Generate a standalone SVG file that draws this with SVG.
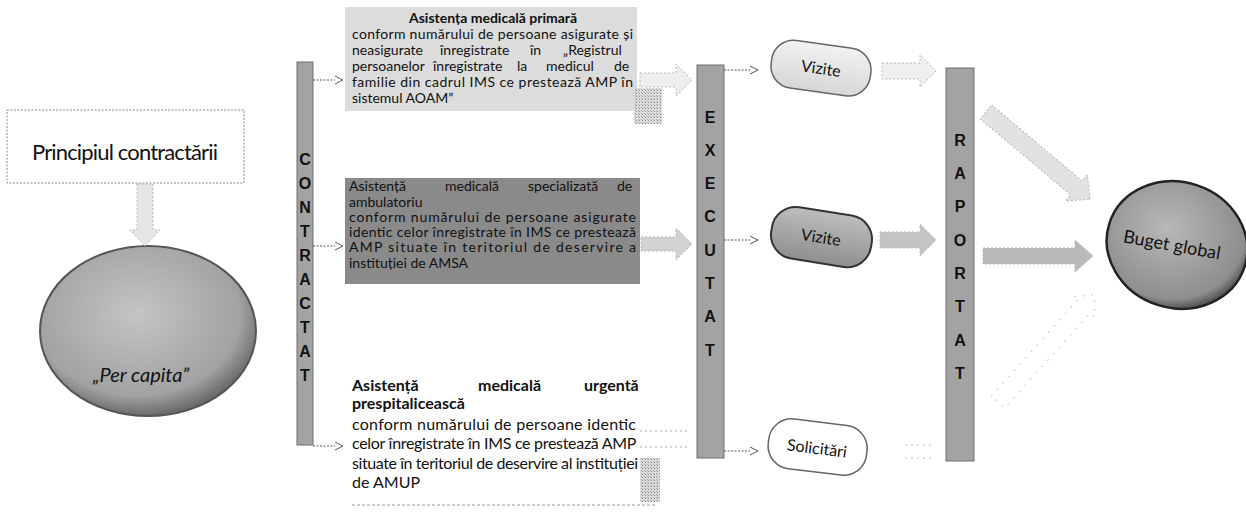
<svg xmlns="http://www.w3.org/2000/svg" width="1246" height="520" viewBox="0 0 1246 520">
<style>
.t{font-family:Lato,"Liberation Sans",sans-serif;fill:#111}
.b{font-weight:bold}
.bar{fill:#a3a3a3;stroke:#6e6e6e;stroke-width:1}
.barl{font-family:"Liberation Sans",sans-serif;font-weight:bold;font-size:16px;fill:#111;text-anchor:middle}
.con{fill:none;stroke:#555;stroke-width:1.2;stroke-dasharray:2 1.5}
.blk{stroke:#b5b5b5;stroke-width:1;stroke-dasharray:2 2}
</style>
<defs>
<marker id="ah" markerWidth="10" markerHeight="10" refX="8" refY="5" orient="auto" markerUnits="userSpaceOnUse">
<path d="M1,1 L9,5 L1,9" fill="#fff" stroke="#555" stroke-width="1"/>
</marker>
<pattern id="dots" width="3" height="3" patternUnits="userSpaceOnUse">
<rect width="3" height="3" fill="#d8d8d8"/><rect width="1" height="1" fill="#777"/><rect x="2" y="2" width="1" height="1" fill="#999"/>
</pattern>
<radialGradient id="gEll" cx="45%" cy="40%" r="60%">
<stop offset="0" stop-color="#c4c4c4"/><stop offset="0.8" stop-color="#a2a2a2"/><stop offset="1" stop-color="#6a6a6a"/>
</radialGradient>
<radialGradient id="gBug" cx="40%" cy="40%" r="65%">
<stop offset="0" stop-color="#b8b8b8"/><stop offset="0.85" stop-color="#8e8e8e"/><stop offset="1" stop-color="#444"/>
</radialGradient>
<linearGradient id="gPill1" x1="0" y1="0" x2="0" y2="1">
<stop offset="0" stop-color="#f2f2f2"/><stop offset="1" stop-color="#d6d6d6"/>
</linearGradient>
<linearGradient id="gPill2" x1="0" y1="0" x2="0" y2="1">
<stop offset="0" stop-color="#bdbdbd"/><stop offset="1" stop-color="#8f8f8f"/>
</linearGradient>
</defs>

<g id="principiul">
<rect x="7" y="110" width="237" height="73" fill="#fff" stroke="#888" stroke-width="1" stroke-dasharray="2 1.5"/>
<text class="t" x="125" y="160" font-size="22" text-anchor="middle" textLength="186">Principiul contractării</text>
</g>

<g id="percapita">
<ellipse cx="148" cy="331" rx="108" ry="85" fill="url(#gEll)" stroke="#555" stroke-width="2"/>
<text class="t" x="141" y="382" font-size="20" font-style="italic" text-anchor="middle">„Per capita”</text>
</g>

<g id="contractat">
<rect class="bar" x="297" y="62" width="16" height="383"/>
<text class="barl"><tspan x="305" y="165">C</tspan><tspan x="305" y="189">O</tspan><tspan x="305" y="213">N</tspan><tspan x="305" y="237">T</tspan><tspan x="305" y="261">R</tspan><tspan x="305" y="285">A</tspan><tspan x="305" y="309">C</tspan><tspan x="305" y="333">T</tspan><tspan x="305" y="357">A</tspan><tspan x="305" y="381">T</tspan></text>
</g>

<g id="amp">
<rect x="345" y="7" width="292" height="104" fill="#dcdcdc"/>
<text class="t b" x="493" y="23" font-size="14" text-anchor="middle" textLength="168">Asistența medicală primară</text>
<text class="t" font-size="14">
<tspan x="352" y="39" textLength="281">conform numărului de persoane asigurate și</tspan>
<tspan x="352" y="55">neasigurate</tspan><tspan x="440" y="55">înregistrate</tspan><tspan x="530" y="55">în</tspan><tspan x="563" y="55">„Registrul</tspan>
<tspan x="352" y="71">persoanelor</tspan><tspan x="433" y="71">înregistrate</tspan><tspan x="517" y="71">la</tspan><tspan x="546" y="71">medicul</tspan><tspan x="614" y="71">de</tspan>
<tspan x="352" y="87" textLength="281">familie din cadrul IMS ce prestează AMP în</tspan>
<tspan x="352" y="103">sistemul AOAM”</tspan>
</text>
<rect x="634" y="88" width="28" height="36" fill="url(#dots)" opacity="0.85"/>
</g>

<g id="amsa">
<rect x="345" y="178" width="295" height="106" fill="#8a8a8a"/>
<text class="t" font-size="14">
<tspan x="349" y="191">Asistență</tspan><tspan x="445" y="191">medicală</tspan><tspan x="528" y="191">specializată</tspan><tspan x="617" y="191">de</tspan>
<tspan x="349" y="207">ambulatoriu</tspan>
<tspan x="349" y="222" textLength="287">conform numărului de persoane asigurate</tspan>
<tspan x="349" y="237" textLength="287">identic celor înregistrate în IMS ce prestează</tspan>
<tspan x="349" y="252" textLength="287">AMP situate în teritoriul de deservire a</tspan>
<tspan x="349" y="268">instituției de AMSA</tspan>
</text>
</g>

<g id="amup">
<text class="t b" font-size="16">
<tspan x="352" y="391">Asistență</tspan><tspan x="478" y="391">medicală</tspan><tspan x="584" y="391">urgentă</tspan>
<tspan x="352" y="409">prespitalicească</tspan>
</text>
<text class="t" font-size="16">
<tspan x="352" y="430" textLength="284">conform numărului de persoane identic</tspan>
<tspan x="352" y="449" textLength="284">celor înregistrate în IMS ce prestează AMP</tspan>
<tspan x="352" y="469" textLength="286">situate în teritoriul de deservire al instituției</tspan>
<tspan x="352" y="488">de AMUP</tspan>
</text>
<line x1="352" y1="505" x2="655" y2="505" stroke="#999" stroke-width="1" stroke-dasharray="3 2"/>
<rect x="640" y="458" width="20" height="44" fill="url(#dots)" opacity="0.9"/>
</g>

<g id="executat">
<rect class="bar" x="697" y="65" width="27" height="393" fill="#8d8d8d"/>
<text class="barl" font-size="17"><tspan x="710" y="123">E</tspan><tspan x="710" y="156">X</tspan><tspan x="710" y="189">E</tspan><tspan x="710" y="222">C</tspan><tspan x="710" y="256">U</tspan><tspan x="710" y="289">T</tspan><tspan x="710" y="322">A</tspan><tspan x="710" y="356">T</tspan></text>
</g>

<g id="vizite1" transform="rotate(8 820 68)">
<rect x="771" y="44" width="100" height="48" rx="22" fill="url(#gPill1)" stroke="#666" stroke-width="1.5"/>
<text class="t" x="821" y="74" font-size="16" text-anchor="middle">Vizite</text>
</g>

<g id="vizite2" transform="rotate(9 821 237)">
<rect x="771" y="211" width="101" height="52" rx="24" fill="url(#gPill2)" stroke="#333" stroke-width="2"/>
<text class="t" x="821" y="243" font-size="16" text-anchor="middle">Vizite</text>
</g>

<g id="solicitari" transform="rotate(7 817 448)">
<rect x="768" y="422" width="99" height="50" rx="23" fill="#fff" stroke="#666" stroke-width="1.5"/>
<text class="t" x="817" y="454" font-size="16" text-anchor="middle">Solicitări</text>
</g>

<g id="raportat">
<rect class="bar" x="946" y="68" width="28" height="393" fill="#a8a8a8"/>
<text class="barl" font-size="17"><tspan x="960" y="146">R</tspan><tspan x="960" y="179">A</tspan><tspan x="960" y="212">P</tspan><tspan x="960" y="246">O</tspan><tspan x="960" y="279">R</tspan><tspan x="960" y="312">T</tspan><tspan x="960" y="346">A</tspan><tspan x="960" y="379">T</tspan></text>
</g>

<g id="buget">
<ellipse cx="1177" cy="245" rx="71" ry="63" transform="rotate(18 1177 245)" fill="url(#gBug)" stroke="#222" stroke-width="2.5"/>
<text class="t" x="1172" y="251" font-size="18" text-anchor="middle" transform="rotate(10 1172 245)">Buget global</text>
</g>

<g id="connectors">
<polygon class="blk" points="137,184 153,184 153,230 160,230 145,246 130,230 137,230" fill="#e6e6e6"/>
<line class="con" x1="313" y1="80" x2="342" y2="80" marker-end="url(#ah)"/>
<line class="con" x1="313" y1="246" x2="342" y2="246" marker-end="url(#ah)"/>
<line class="con" x1="313" y1="446" x2="342" y2="446" marker-end="url(#ah)"/>
<polygon class="blk" points="640,73 676,73 676,64 692,80 676,96 676,87 640,87" fill="#eeeeee"/>
<polygon class="blk" points="641,237 676,237 676,228 692,244 676,260 676,251 641,251" fill="#d2d2d2"/>
<line x1="640" y1="431" x2="690" y2="431" stroke="#aaa" stroke-dasharray="2 3"/>
<line x1="640" y1="447" x2="690" y2="447" stroke="#aaa" stroke-dasharray="2 3"/>
<line class="con" x1="724" y1="70" x2="757" y2="70" marker-end="url(#ah)"/>
<line class="con" x1="724" y1="240" x2="757" y2="240" marker-end="url(#ah)"/>
<line class="con" x1="724" y1="451" x2="757" y2="451" marker-end="url(#ah)"/>
<polygon class="blk" points="882,63 920,63 920,55 936,71 920,87 920,79 882,79" fill="#efefef"/>
<polygon class="blk" points="880,232 920,232 920,224 936,240 920,256 920,248 880,248" fill="#c4c4c4"/>
<line x1="905" y1="445" x2="935" y2="445" stroke="#bbb" stroke-dasharray="2 4"/>
<line x1="905" y1="458" x2="935" y2="458" stroke="#bbb" stroke-dasharray="2 4"/>
<polygon class="blk" transform="translate(986 112) rotate(40)" points="0,-9 118,-9 118,-17 136,0 118,17 118,9 0,9" fill="#e2e2e2"/>
<polygon class="blk" points="983,248 1075,248 1075,240 1093,256 1075,272 1075,264 983,264" fill="#b9b9b9"/>
<polygon transform="translate(998 402) rotate(-48)" points="0,-9 128,-9 128,-15 144,0 128,15 128,9 0,9" fill="none" stroke="#bbb" stroke-width="1" stroke-dasharray="1.5 7"/>
</g>
</svg>
